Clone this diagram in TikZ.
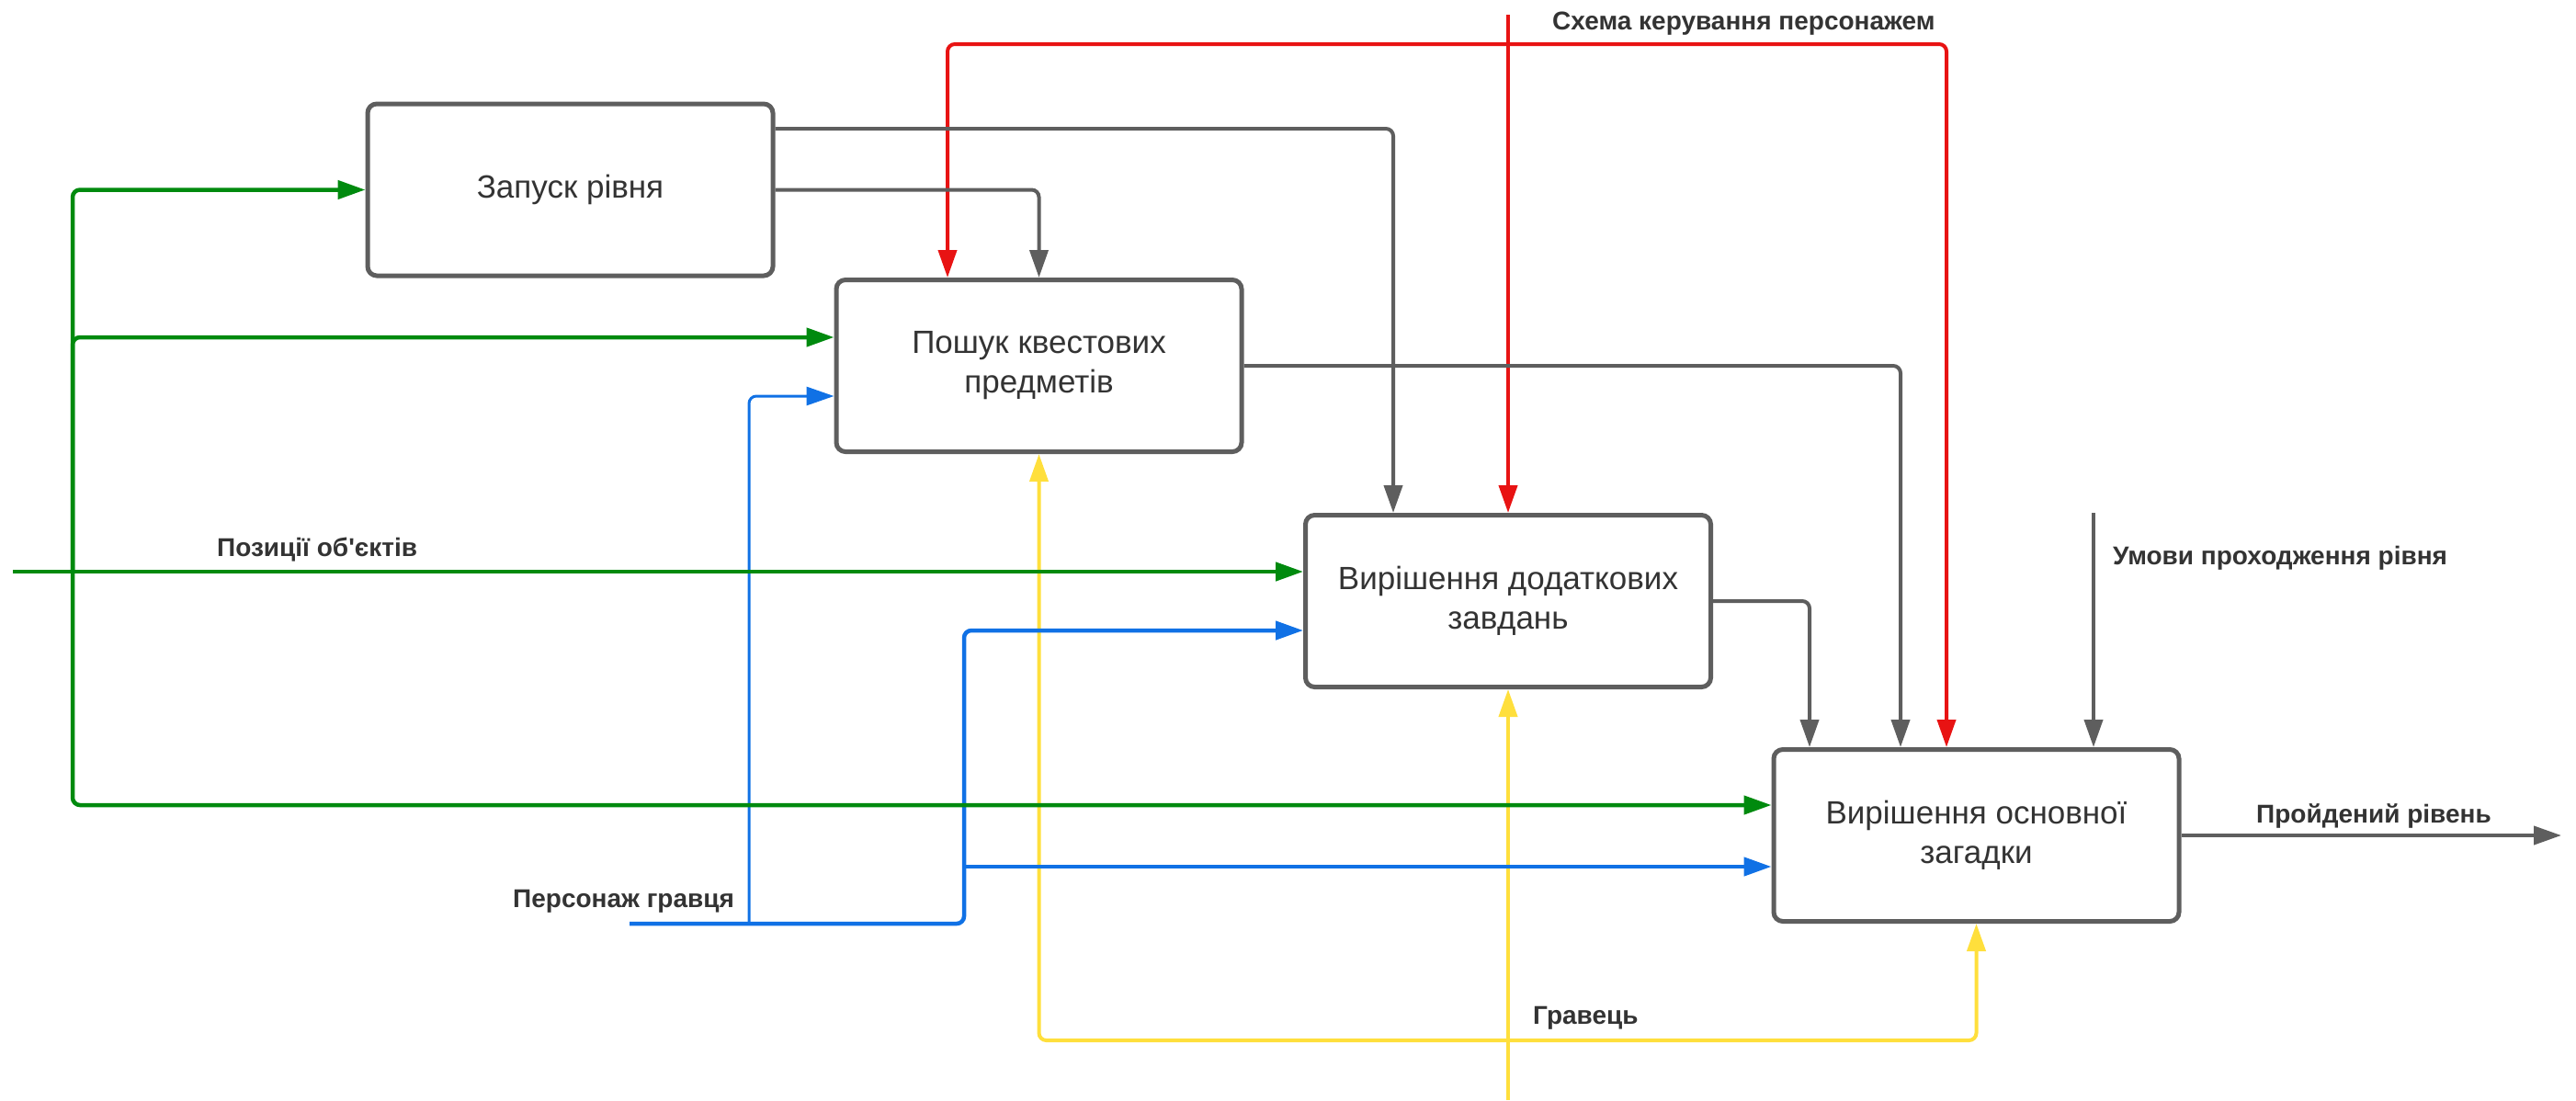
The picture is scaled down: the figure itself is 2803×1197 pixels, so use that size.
\documentclass[tikz,border=0pt]{standalone}
\usepackage{fontspec}
\setmainfont{Liberation Sans}
\usetikzlibrary{arrows.meta}

\definecolor{gy}{HTML}{5E5E5E}
\definecolor{gn}{HTML}{008A0E}
\definecolor{rd}{HTML}{E81313}
\definecolor{bl}{HTML}{1071E5}
\definecolor{yl}{HTML}{FFDF3C}
\definecolor{tx}{HTML}{333333}

\begin{document}
\begin{tikzpicture}[x=1pt,y=-1pt,
  block/.style={draw=gy, line width=5pt, rounded corners=10pt, fill=white,
    minimum width=441pt, minimum height=187pt, align=center, text=tx,
    font=\fontsize{35}{43}\selectfont},
  lbl/.style={inner sep=0pt, anchor=base west, text=tx,
    font=\bfseries\fontsize{28}{34}\selectfont},
  tip/.style={-{Triangle[length=30pt,width=20pt]}},
  conn/.style={tip, rounded corners=8pt},
  gline/.style={conn, draw=gy, line width=4pt},
  rline/.style={conn, draw=rd, line width=4pt},
  gnline/.style={conn, draw=gn, line width=4.5pt},
  bline/.style={conn, draw=bl, line width=4.5pt},
  bthin/.style={conn, draw=bl, line width=3pt},
  yline/.style={conn, draw=yl, line width=4pt}]

\useasboundingbox (0,0) rectangle (2803,1197);

% blocks
\node[block] (b1) at (620.5,206.5) {Запуск рівня};
\node[block] (b2) at (1130.5,398) {Пошук квестових\\предметів};
\node[block] (b3) at (1641,654) {Вирішення додаткових\\завдань};
\node[block] (b4) at (2150.5,909) {Вирішення основної\\загадки};

% free ends of the boundary arrows
\coordinate (inpos) at (14,622);
\coordinate (inpl)  at (685,1005);
\coordinate (inply) at (1641,1197);
\coordinate (ctl)   at (1641,16);
\coordinate (cond)  at (2278,558);
\coordinate (outlv) at (2787,909);

% branch points
\coordinate (ybr)  at (1641,1132);
\coordinate (gbr)  at (79,622);
\coordinate (bbr1) at (815,1005);
\coordinate (bbr2) at (1049,943);
\coordinate (rbr)  at (1641,48);

% mechanism: player (yellow)
\draw[yline] (inply) -- (b3.south);
\draw[yline] (ybr) -| (b2.south);
\draw[yline] (ybr) -| (b4.south);

% input: player character (blue)
\draw[bline] (inpl) -| (bbr2 |- 0,686) -- (b3.west |- 0,686);
\draw[bline] (bbr2) -- (b4.west |- bbr2);
\draw[bthin] (bbr1) |- (b2.west |- 0,431);

% input: object positions (green)
\draw[gnline] (inpos) -- (b3.west |- inpos);
\draw[gnline] (gbr) |- (b1.west);
\draw[gnline] (gbr) |- (b2.west |- 0,367);
\draw[gnline] (gbr) |- (b4.west |- 0,876);

% control: character control scheme (red)
\draw[rline] (ctl) -- (b3.north);
\draw[rline] (rbr) -| (b2.north -| 1031,0);
\draw[rline] (rbr) -| (b4.north -| 2118,0);

% outputs between blocks and level conditions (grey)
\draw[gline] (b1.east |- 0,140) -| (b3.north -| 1516,0);
\draw[gline] (b1.east) -| (b2.north);
\draw[gline] (b2.east) -| (b4.north -| 2068,0);
\draw[gline] (b3.east) -| (b4.north -| 1969,0);
\draw[gline] (cond) -- (b4.north -| cond);
\draw[gline] (b4.east) -- (outlv);

% labels
\node[lbl] (lpos)  at (236,605)  {Позиції об\textquotesingle єктів};
\node[lbl] (lpl)   at (558,987)  {Персонаж гравця};
\node[lbl] (lply)  at (1668,1114) {Гравець};
\node[lbl] (lctl)  at (1689,32)  {Схема керування персонажем};
\node[lbl] (lcond) at (2299,614) {Умови проходження рівня};
\node[lbl] (lout)  at (2455,895) {Пройдений рівень};

\end{tikzpicture}
\end{document}
